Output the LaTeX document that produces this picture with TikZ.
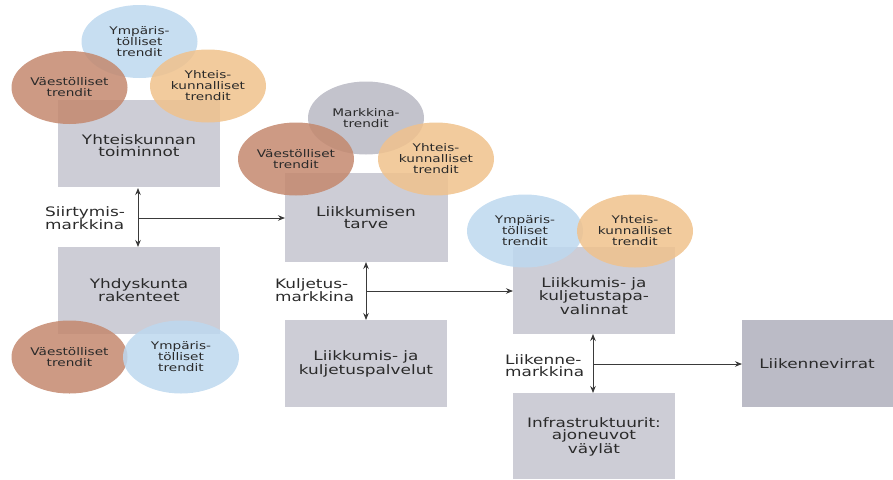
\documentclass[tikz,border=0pt]{standalone}
\usepackage{fontspec}
\setmainfont{DejaVu Sans}[FakeStretch=1.3]
\usetikzlibrary{shapes.geometric,arrows.meta}
\definecolor{boxgray}{HTML}{CDCDD6}
\definecolor{darkbox}{HTML}{BBBBC6}
\definecolor{tblue}{HTML}{BDD8EF}
\definecolor{tbrown}{HTML}{C4886E}
\definecolor{torange}{HTML}{F0C28C}
\definecolor{tgray}{HTML}{B8B8C3}
\definecolor{txt}{HTML}{2A2A2A}
\definecolor{linec}{HTML}{3A3A3A}
\tikzset{
  boxnode/.style={draw=none,fill=boxgray,inner sep=0pt},
  boxtext/.style={text=txt,align=center,font=\fontsize{13}{12}\selectfont,inner sep=0pt},
  trend/.style={ellipse,draw=none,minimum width=116pt,minimum height=73pt,inner sep=0pt,
    fill opacity=0.85,text opacity=1,text=txt,align=center,font=\fontsize{10.5}{11}\selectfont},
  lbl/.style={text=txt,align=left,font=\fontsize{13}{12}\selectfont,inner sep=0pt},
  conn/.style={draw=linec,line width=0.9pt},
  tip/.style={-{Stealth[length=7pt,width=5.5pt]}},
  tips/.style={{Stealth[length=7pt,width=5.5pt]}-{Stealth[length=7pt,width=5.5pt]}}
}
\begin{document}
\begin{tikzpicture}[x=1pt,y=-1pt]
\useasboundingbox (0,0) rectangle (893,479);
% boxes
\path[boxnode] (58,100) rectangle (220,187);
\path[boxnode] (58,247) rectangle (220,334);
\path[boxnode] (285,173) rectangle (448,262);
\path[boxnode] (285,320) rectangle (447,407);
\path[boxnode] (513,247) rectangle (675,334);
\path[boxnode] (513,393) rectangle (675,479);
\path[fill=darkbox] (742,320) rectangle (893,407);
% box anchors
\coordinate (b1s) at (138,188);
\coordinate (b2n) at (138,247);
\coordinate (b3w) at (285,218);
\coordinate (b3s) at (366,262);
\coordinate (b4n) at (366,320);
\coordinate (b5w) at (513,291);
\coordinate (b5s) at (593,334);
\coordinate (b6n) at (593,393);
\coordinate (b7w) at (742,364);
\coordinate (m1) at (138,218);
\coordinate (m2) at (366,291);
\coordinate (m3) at (593,364);
% box texts
\node[boxtext] (t1) at (139,146) {Yhteiskunnan\\toiminnot};
\node[boxtext] (t2) at (139,290) {Yhdyskunta\\rakenteet};
\node[boxtext] (t3) at (366,218) {Liikkumisen\\tarve};
\node[boxtext] (t4) at (366,364) {Liikkumis- ja\\kuljetuspalvelut};
\node[boxtext] (t5) at (594,296) {Liikkumis- ja\\kuljetustapa-\\valinnat};
\node[boxtext] (t6) at (594,437) {Infrastruktuurit:\\ajoneuvot\\väylät};
\node[boxtext] (t7) at (817,364) {Liikennevirrat};
% connectors
\draw[conn,tips] (b1s) -- (b2n);
\draw[conn,tip] (m1) -- (b3w);
\draw[conn,tips] (b3s) -- (b4n);
\draw[conn,tip] (m2) -- (b5w);
\draw[conn,tips] (b5s) -- (b6n);
\draw[conn,tip] (m3) -- (b7w);
% market labels
\node[lbl,anchor=west] (l1) at (45,218) {Siirtymis-\\markkina};
\node[lbl,anchor=west] (l2) at (275,290) {Kuljetus-\\markkina};
\node[lbl,anchor=west] (l3) at (505,366) {Liikenne-\\markkina};
% group 1
\node[trend,fill=tblue] (e1) at (139.5,41.5) {Ympäris-\\tölliset\\trendit};
\node[trend,fill=tbrown] (e2) at (69.5,87.5) {Väestölliset\\trendit};
\node[trend,fill=torange] (e3) at (208,86) {Yhteis-\\kunnalliset\\trendit};
% group 2
\node[trend,fill=tgray] (e4) at (366,118) {Markkina-\\trendit};
\node[trend,fill=tbrown] (e5) at (296,159) {Väestölliset\\trendit};
\node[trend,fill=torange] (e6) at (436,159) {Yhteis-\\kunnalliset\\trendit};
% group 3
\node[trend,fill=tblue] (e7) at (525,231) {Ympäris-\\tölliset\\trendit};
\node[trend,fill=torange] (e8) at (635,231) {Yhteis-\\kunnalliset\\trendit};
% group 4
\node[trend,fill=tbrown] (e9) at (69.5,357) {Väestölliset\\trendit};
\node[trend,fill=tblue] (e10) at (181,357) {Ympäris-\\tölliset\\trendit};
\end{tikzpicture}
\end{document}
